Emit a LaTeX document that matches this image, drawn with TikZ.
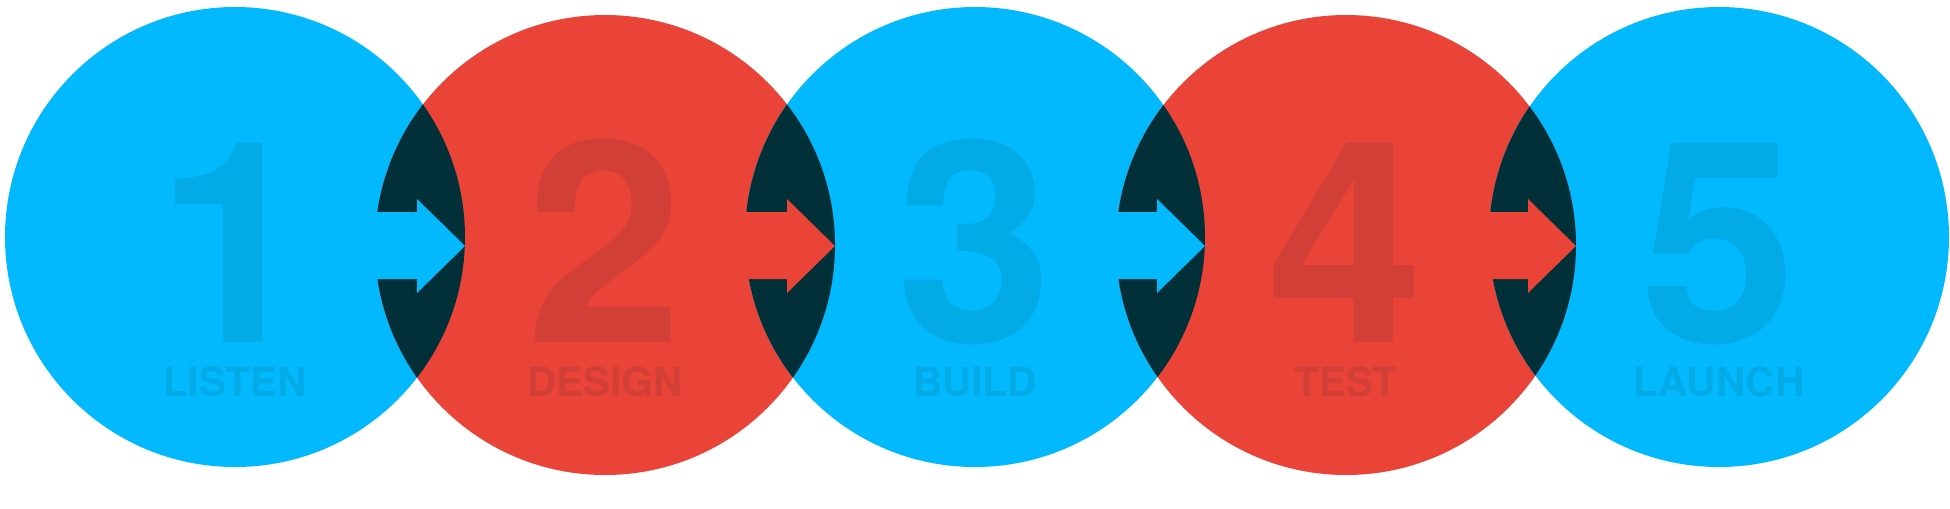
\documentclass[tikz,border=0pt]{standalone}
\usepackage{fontspec}
\setmainfont{TeX Gyre Heros}
\definecolor{cblue}{HTML}{03B9FE}
\definecolor{cred}{HTML}{EA4337}
\definecolor{dblue}{HTML}{02ABE6}
\definecolor{dred}{HTML}{D23F37}
\definecolor{lens}{HTML}{023039}
\tikzset{
  num/.style={font=\fontsize{80}{80}\selectfont\bfseries, inner sep=0pt, text depth=0pt, anchor=base},
  lab/.style={font=\fontsize{11.5}{12}\selectfont\bfseries, inner sep=0pt, text height=8pt, anchor=base},
}
\begin{document}
\begin{tikzpicture}[x=0.01cm,y=-0.01cm]
\useasboundingbox (0,0) rectangle (1950,508);
\def\R{230}
% circles
\fill[cblue] (235,237) circle (\R);
\fill[cred] (605,245) circle (\R);
\fill[cblue] (975,237) circle (\R);
\fill[cred] (1346,245) circle (\R);
\fill[cblue] (1719,237) circle (\R);
% lenses
\foreach \a/\ay/\b/\by in {235/237/605/245, 605/245/975/237, 975/237/1346/245, 1346/245/1719/237}{
  \begin{scope}
    \clip (\a,\ay) circle (\R);
    \fill[lens] (\b,\by) circle (\R);
  \end{scope}
}
% arrows
\foreach \a/\ay/\c in {235/237/cblue, 605/245/cred, 975/237/cblue, 1346/245/cred}{
  \pgfmathsetmacro{\tip}{\a+\R}
  \pgfmathsetmacro{\hb}{\a+\R-48}
  \pgfmathsetmacro{\st}{\a+\R-100}
  \fill[\c] (\st,212) -- (\hb,212) -- (\hb,199) -- (\tip,246) -- (\hb,293) -- (\hb,279) -- (\st,279) -- cycle;
}
% numbers and labels
\node[num, text=dblue] (n1) at (235,342) {1};
\node[num, text=dred] (n2) at (605,342) {2};
\node[num, text=dblue] (n3) at (975,342) {3};
\node[num, text=dred] (n4) at (1346,342) {4};
\node[num, text=dblue] (n5) at (1719,342) {5};
\node[lab, text=dblue] (l1) at (235,396) {LISTEN};
\node[lab, text=dred] (l2) at (605,396) {DESIGN};
\node[lab, text=dblue] (l3) at (975,396) {BUILD};
\node[lab, text=dred] (l4) at (1346,396) {TEST};
\node[lab, text=dblue] (l5) at (1719,396) {LAUNCH};
\end{tikzpicture}
\end{document}
